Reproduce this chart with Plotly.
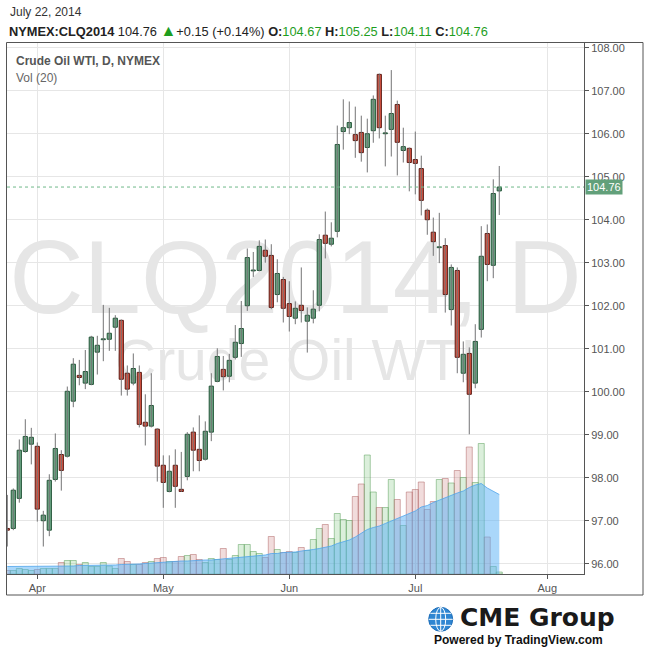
import plotly.graph_objects as go

# ---------------- data (bar index 0 = Apr 1, 2014; trading days) ----------------
bar_index = list(range(-5, 78))
open_ = [96.82, 96.82, 97.52, 98.61, 98.78, 98.73, 97.00, 96.78, 97.96, 98.54,
         98.50, 99.78, 100.38, 100.20, 100.17, 100.92, 101.21, 101.22, 101.50, 101.66,
         100.43, 100.20, 100.45, 99.29, 99.20, 99.13, 98.29, 97.68, 98.29, 97.73,
         98.03, 99.06, 98.66, 98.43, 99.06, 100.24, 100.52, 100.36, 100.80, 101.12,
         102.00, 102.81, 102.82, 103.29, 103.17, 102.26, 102.61, 102.05, 101.71, 102.01,
         101.64, 101.71, 102.01, 103.64, 103.43, 103.73, 106.05, 106.14, 105.98, 106.03,
         105.68, 106.07, 107.38, 106.00, 106.10, 106.68, 105.61, 105.66, 105.40, 105.19,
         104.22, 103.71, 103.35, 103.40, 101.91, 102.82, 100.43, 100.89, 100.20, 101.45,
         103.68, 102.94, 104.67]
high = [97.60, 97.75, 98.89, 99.36, 99.16, 98.82, 97.23, 98.08, 99.03, 98.64,
        100.12, 100.78, 100.74, 100.97, 101.30, 101.30, 102.02, 101.95, 101.78, 101.68,
        100.61, 100.89, 100.61, 99.94, 100.43, 99.15, 98.52, 98.52, 98.66, 98.60,
        99.06, 99.17, 99.45, 99.31, 100.43, 101.01, 100.83, 100.88, 101.55, 102.11,
        103.33, 103.25, 103.52, 103.54, 103.43, 103.08, 102.67, 102.57, 102.10, 102.89,
        101.96, 102.36, 103.66, 104.19, 103.94, 106.19, 106.80, 106.75, 106.63, 106.42,
        106.35, 106.89, 107.40, 106.42, 107.48, 106.77, 106.14, 105.68, 106.05, 105.49,
        104.26, 104.05, 104.16, 103.57, 102.96, 102.89, 101.17, 101.03, 101.57, 103.85,
        103.89, 104.94, 105.25]
low = [96.40, 96.78, 97.42, 98.58, 98.31, 96.98, 96.40, 96.64, 97.91, 97.70,
       98.47, 99.64, 100.15, 100.06, 100.15, 100.40, 100.71, 100.95, 100.95, 99.91,
       99.91, 100.15, 99.17, 98.75, 99.17, 97.91, 97.30, 97.66, 97.30, 97.67,
       97.94, 98.15, 98.15, 98.40, 98.85, 100.22, 100.03, 100.22, 100.75, 100.81,
       101.88, 102.67, 102.80, 103.00, 101.92, 102.08, 101.61, 101.40, 101.57, 101.61,
       100.91, 101.59, 101.87, 103.10, 103.38, 103.59, 105.63, 105.99, 105.44, 105.35,
       105.10, 105.79, 105.89, 105.24, 105.47, 105.03, 105.33, 104.66, 104.59, 104.10,
       103.65, 103.16, 102.99, 101.84, 101.54, 100.43, 100.22, 99.01, 100.08, 101.26,
       102.57, 102.64, 104.11]
close = [96.78, 97.71, 98.64, 98.96, 98.94, 97.27, 97.13, 97.94, 98.68, 98.17,
         100.01, 100.64, 100.33, 100.47, 101.27, 101.08, 101.23, 101.36, 101.71, 100.29,
         100.06, 100.54, 99.24, 99.20, 99.68, 98.27, 97.89, 98.15, 97.80, 97.68,
         99.01, 98.64, 98.40, 99.08, 100.13, 100.82, 100.35, 100.73, 101.15, 101.47,
         103.12, 102.83, 103.38, 103.15, 101.96, 102.75, 101.94, 101.75, 101.94, 101.89,
         101.78, 101.92, 103.54, 103.45, 103.57, 105.75, 106.14, 106.26, 105.84, 105.56,
         106.00, 106.80, 106.14, 106.00, 106.47, 105.80, 105.70, 105.33, 105.31, 104.45,
         104.00, 103.49, 103.37, 102.26, 102.89, 100.80, 100.87, 99.94, 101.17, 103.15,
         102.96, 104.61, 104.76]
# volume (thousands of contracts, estimated)
volume = [7, 7, 11, 9, 7, 9, 11, 11, 11, 23,
          27, 27, 19, 23, 15, 15, 23, 16, 11, 31,
          25, 19, 19, 23, 25, 31, 33, 25, 25, 35,
          37, 39, 29, 23, 31, 29, 51, 29, 37, 59,
          59, 45, 41, 33, 75, 49, 43, 45, 43, 53,
          47, 69, 91, 99, 71, 121, 109, 107, 155, 180,
          238, 164, 133, 133, 189, 149, 97, 164, 169, 184,
          129, 145, 189, 191, 182, 207, 193, 254, 183, 261,
          74, 15, 4]
# volume 20-day moving average (thousands)
vol_ma = [15, 15, 15, 15, 15, 15, 15, 15, 15, 16,
          16, 16, 17, 17, 17, 17, 18, 18, 18, 19,
          19, 20, 20, 21, 22, 23, 24, 25, 26, 26,
          26, 27, 27, 28, 28, 29, 30, 31, 32, 33,
          34, 36, 37, 38, 41, 41, 43, 43, 44, 46,
          47, 49, 51, 53, 56, 61, 65, 68, 74, 81,
          89, 93, 96, 101, 106, 111, 115, 120, 126, 134,
          137, 143, 148, 153, 158, 162, 166, 173, 178, 181,
          172, 165, 159]
month_ticks = [0, 21, 42, 63, 85]
month_labels = ["Apr", "May", "Jun", "Jul", "Aug"]

# ---------------- styling ----------------
W, H = 650, 652
ML, MR, MT, MB = 7, 66, 42, 78
PW, PH = W - ML - MR, H - MT - MB
def px(x):
    return (x - ML) / PW
def py(y):
    return (H - MB - y) / PH

G_FILL, G_LINE = "#6ba583", "#225437"
R_FILL, R_LINE = "#d75442", "#5b1a13"
WICK = "#737375"
FONT = "Liberation Sans, Arial, sans-serif"

up = [c >= o for o, c in zip(open_, close)]

fig = go.Figure()

# volume bars
fig.add_trace(go.Bar(
    x=bar_index, y=volume, width=1.0, yaxis="y",
    marker=dict(color=["rgba(110,190,110,0.25)" if u else "rgba(195,110,110,0.24)" for u in up],
                line=dict(color=["rgba(90,160,90,0.5)" if u else "rgba(175,100,100,0.5)" for u in up], width=1)),
    hoverinfo="skip", showlegend=False))
# volume MA area
fig.add_trace(go.Scatter(
    x=bar_index, y=vol_ma, yaxis="y", mode="lines", fill="tozeroy",
    fillcolor="rgba(85,175,245,0.5)", line=dict(color="rgba(80,165,235,0.8)", width=1),
    hoverinfo="skip", showlegend=False))

# wicks
wx, wy = [], []
for k, lo, hi in zip(bar_index, low, high):
    wx += [k, k, None]
    wy += [lo, hi, None]
fig.add_trace(go.Scatter(x=wx, y=wy, yaxis="y2", mode="lines",
                         line=dict(color=WICK, width=1), hoverinfo="skip", showlegend=False))
# bodies
base = [min(o, c) for o, c in zip(open_, close)]
hgt = [max(abs(c - o), 0.02) for o, c in zip(open_, close)]
fig.add_trace(go.Bar(
    x=bar_index, y=hgt, base=base, width=0.7, yaxis="y2",
    marker=dict(color=[G_FILL if u else R_FILL for u in up],
                line=dict(color=[G_LINE if u else R_LINE for u in up], width=1)),
    hoverinfo="skip", showlegend=False))

last = close[-1]

shapes = [
    # watermark
    dict(type="rect", xref="paper", yref="paper", x0=0, x1=1, y0=py(312), y1=py(222),
         line=dict(width=0), fillcolor="rgba(0,0,0,0)", layer="between",
         label=dict(text="CLQ2014, D", textposition="middle center",
                    font=dict(size=103, color="#e6e6e6", family=FONT))),
    dict(type="rect", xref="paper", yref="paper", x0=0, x1=1, y0=py(386), y1=py(324),
         line=dict(width=0), fillcolor="rgba(0,0,0,0)", layer="between",
         label=dict(text="Crude Oil WTI", textposition="middle center",
                    font=dict(size=57, color="#e6e6e6", family=FONT))),
    # last price line
    dict(type="line", xref="paper", yref="y2", x0=0, x1=1, y0=last, y1=last,
         line=dict(color="#6fb88a", width=1, dash="dot")),
    # outer frame
    dict(type="rect", xref="paper", yref="paper", x0=px(6.5), x1=px(643), y0=py(595), y1=py(42.5),
         line=dict(color="#555555", width=1), fillcolor="rgba(0,0,0,0)"),
]

# CME globe
gx, gy, gr = 440.7, 619.3, 12
shapes.append(dict(type="circle", xref="paper", yref="paper",
                   x0=px(gx - gr), x1=px(gx + gr), y0=py(gy + gr), y1=py(gy - gr),
                   fillcolor="#2f86d2", line=dict(color="#1d6db8", width=1)))
shapes.append(dict(type="circle", xref="paper", yref="paper",
                   x0=px(gx - 5), x1=px(gx + 5), y0=py(gy + gr), y1=py(gy - gr),
                   fillcolor="rgba(0,0,0,0)", line=dict(color="white", width=1)))
shapes.append(dict(type="line", xref="paper", yref="paper",
                   x0=px(gx), x1=px(gx), y0=py(gy + gr), y1=py(gy - gr),
                   line=dict(color="white", width=1)))
for d in (-6, 0, 6):
    hl = (gr ** 2 - d ** 2) ** 0.5
    shapes.append(dict(type="line", xref="paper", yref="paper",
                       x0=px(gx - hl), x1=px(gx + hl), y0=py(gy + d), y1=py(gy + d),
                       line=dict(color="white", width=1)))

GREEN_T = "#1e9e1e"
header = ("<b>NYMEX:CLQ2014</b> 104.76 <span style='color:%s;font-size:16px'>▲</span>+0.15 (+0.14%%) "
          "<b>O:</b><span style='color:%s'>104.67</span> <b>H:</b><span style='color:%s'>105.25</span> "
          "<b>L:</b><span style='color:%s'>104.11</span> <b>C:</b><span style='color:%s'>104.76</span>"
          % (GREEN_T, GREEN_T, GREEN_T, GREEN_T, GREEN_T))

annotations = [
    dict(text="July 22, 2014", x=px(8), y=py(12), xref="paper", yref="paper",
         xanchor="left", yanchor="middle", showarrow=False, font=dict(size=12, color="#333", family=FONT)),
    dict(text=header, x=px(7), y=py(30), xref="paper", yref="paper",
         xanchor="left", yanchor="middle", showarrow=False, font=dict(size=12.8, color="#222", family=FONT)),
    dict(text="<b>Crude Oil WTI, D, NYMEX</b>", x=px(14), y=py(61), xref="paper", yref="paper",
         xanchor="left", yanchor="middle", showarrow=False, font=dict(size=12, color="#555", family=FONT)),
    dict(text="Vol (20)", x=px(14), y=py(78), xref="paper", yref="paper",
         xanchor="left", yanchor="middle", showarrow=False, font=dict(size=12, color="#666", family=FONT)),
    dict(text="104.76", x=px(585), y=last, xref="paper", yref="y2",
         xanchor="left", yanchor="middle", showarrow=False, bgcolor="#62a07a", borderpad=1,
         font=dict(size=11, color="white", family=FONT)),
    dict(text="<b>CME Group</b>", x=px(458), y=py(617), xref="paper", yref="paper",
         xanchor="left", yanchor="middle", showarrow=False,
         font=dict(size=25, color="#1a1a1a", family="DejaVu Sans, sans-serif")),
    dict(text="<b>Powered by TradingView.com</b>", x=px(432), y=py(640), xref="paper", yref="paper",
         xanchor="left", yanchor="middle", showarrow=False,
         font=dict(size=12, color="#111", family=FONT)),
]

fig.update_layout(
    width=W, height=H, margin=dict(l=ML, r=MR, t=MT, b=MB),
    paper_bgcolor="white", plot_bgcolor="white",
    barmode="overlay", showlegend=False,
    font=dict(family=FONT, color="#555"),
    xaxis=dict(range=[-5.05, 91.12], tickvals=month_ticks, ticktext=month_labels,
               showgrid=True, gridcolor="#e6e6e6", gridwidth=1, zeroline=False,
               showline=True, linecolor="#555", linewidth=1,
               ticks="outside", ticklen=4, tickcolor="#555",
               tickfont=dict(size=11, color="#555", family=FONT)),
    yaxis=dict(range=[0, 1064], visible=False, fixedrange=True),
    yaxis2=dict(range=[95.761, 108.133], overlaying="y", side="right",
                tick0=96, dtick=1, tickformat=".2f",
                showgrid=True, gridcolor="#e6e6e6", gridwidth=1, zeroline=False,
                showline=True, linecolor="#555", linewidth=1,
                ticks="outside", ticklen=4, tickcolor="#555",
                tickfont=dict(size=11, color="#555", family=FONT)),
    shapes=shapes, annotations=annotations,
)

fig.write_html("out.html", config={"displayModeBar": False},
               post_script="document.body.style.margin='0';document.body.style.overflow='hidden';")
